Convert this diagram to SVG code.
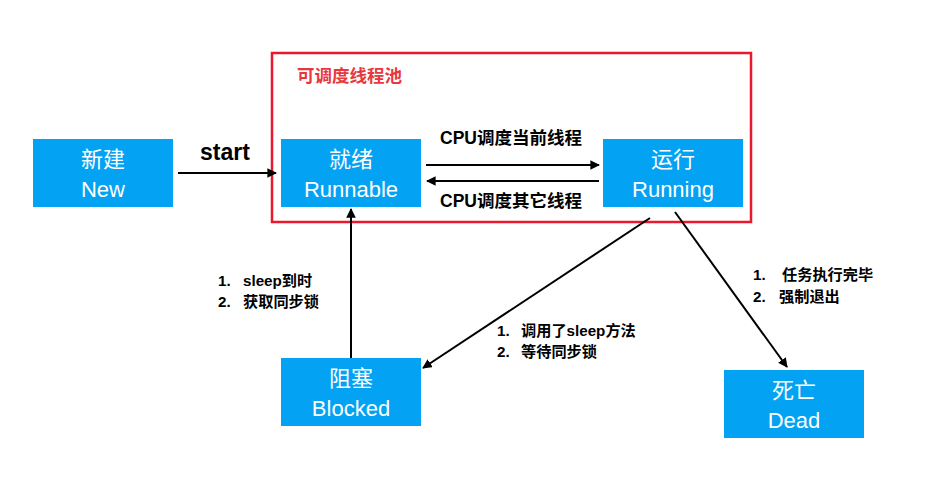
<svg xmlns="http://www.w3.org/2000/svg" width="950" height="495" viewBox="0 0 950 495">
<style>
.node rect{fill:#03A2F2}
.nt{fill:#fff;font-family:"Liberation Sans","Noto Sans CJK SC",sans-serif;font-size:22px;text-anchor:middle}
.lbl{fill:#000;font-family:"Liberation Sans","Noto Sans CJK SC",sans-serif;font-size:15.2px;font-weight:bold}
.edge{stroke:#000;stroke-width:2;fill:none;marker-end:url(#ah)}
</style>
<defs>
<marker id="ah" viewBox="0 0 10 10" refX="9" refY="5" markerWidth="4.8" markerHeight="4.8" orient="auto" markerUnits="strokeWidth">
<path d="M0,0 L10,5 L0,10 z" fill="#000"/>
</marker>
</defs>
<rect width="950" height="495" fill="#fff"/>
<g id="pool">
<rect x="272" y="53" width="479" height="169" fill="none" stroke="#E8192C" stroke-width="2.5"/>
<text x="297" y="82" style="fill:#E8383D;font-family:'Liberation Sans','Noto Sans CJK SC',sans-serif;font-size:17.5px;font-weight:bold">可调度线程池</text>
</g>
<g id="connectors">
<line class="edge" x1="178" y1="173" x2="276" y2="173"/>
<line class="edge" x1="426" y1="165" x2="599" y2="165"/>
<line class="edge" x1="599" y1="181" x2="427" y2="181"/>
<line class="edge" x1="351" y1="358" x2="351" y2="209"/>
<line class="edge" x1="650" y1="218" x2="423" y2="368"/>
<line class="edge" x1="675" y1="212" x2="787" y2="367"/>
<text class="lbl" x="200" y="160" style="font-size:23px">start</text>
<text class="lbl" x="440" y="144" style="font-size:17.5px">CPU调度当前线程</text>
<text class="lbl" x="440" y="207" style="font-size:17.5px">CPU调度其它线程</text>
<text class="lbl" x="218" y="286">1.<tspan x="243">sleep到时</tspan></text>
<text class="lbl" x="218" y="307">2.<tspan x="243">获取同步锁</tspan></text>
<text class="lbl" x="497" y="336">1.<tspan x="521">调用了sleep方法</tspan></text>
<text class="lbl" x="497" y="357">2.<tspan x="521">等待同步锁</tspan></text>
<text class="lbl" x="753" y="280">1.<tspan x="782">任务执行完毕</tspan></text>
<text class="lbl" x="753" y="302">2.<tspan x="779">强制退出</tspan></text>
</g>
<g id="node-new" class="node">
<rect x="33" y="139" width="140" height="68"/>
<text class="nt" x="103" y="167">新建</text>
<text class="nt" x="103" y="197">New</text>
</g>
<g id="node-runnable" class="node">
<rect x="281" y="139" width="140" height="68"/>
<text class="nt" x="351" y="167">就绪</text>
<text class="nt" x="351" y="197">Runnable</text>
</g>
<g id="node-running" class="node">
<rect x="603" y="139" width="140" height="68"/>
<text class="nt" x="673" y="167">运行</text>
<text class="nt" x="673" y="197">Running</text>
</g>
<g id="node-blocked" class="node">
<rect x="281" y="358" width="140" height="68"/>
<text class="nt" x="351" y="386">阻塞</text>
<text class="nt" x="351" y="416">Blocked</text>
</g>
<g id="node-dead" class="node">
<rect x="724" y="370" width="140" height="68"/>
<text class="nt" x="794" y="398">死亡</text>
<text class="nt" x="794" y="428">Dead</text>
</g>
</svg>
